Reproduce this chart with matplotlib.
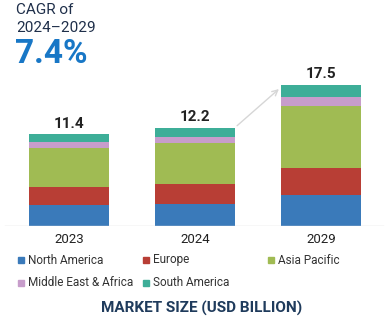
import matplotlib.pyplot as plt
from matplotlib.patches import Rectangle

plt.rcParams['font.family'] = ['Roboto', 'DejaVu Sans']

years = ['2023', '2024', '2029']
totals = [11.4, 12.2, 17.5]
regions = ['North America', 'Europe', 'Asia Pacific', 'Middle East & Africa', 'South America']
north_america = [2.6, 2.77, 3.8]
europe = [2.27, 2.44, 3.42]
asia_pacific = [4.76, 5.12, 7.68]
mea = [0.74, 0.74, 1.04]
south_america = [1.03, 1.13, 1.56]
colors = ['#3a7aba', '#b83e35', '#a0bb53', '#c79dcb', '#3dae98']

W, H = 391, 322
fig = plt.figure(figsize=(W / 100, H / 100), dpi=100)

# axes: baseline at y=226px, top at 70px; bar centres at 69, 195, 321px
ax = fig.add_axes([0, 1 - 226 / H, 1, (226 - 70) / H])
ax.set_ylim(0, (226 - 70) / 8.07)
ax.set_xlim(-69 / 126, (W - 69) / 126)
ax.axis('off')

x = range(len(years))
bottom = [0, 0, 0]
for vals, c in zip([north_america, europe, asia_pacific, mea, south_america], colors):
    ax.bar(x, vals, width=80 / 126, bottom=bottom, color=c, linewidth=0)
    bottom = [b + v for b, v in zip(bottom, vals)]

ax.axhline(0, xmin=5 / W, xmax=383 / W, color='#d9d9d9', lw=1)

for i, t in enumerate(totals):
    ax.annotate(f'{t}', (i, t), xytext=(0, 2.5), textcoords='offset points',
                ha='center', va='bottom', fontsize=11, fontweight='bold', color='#222222')
    ax.text(i, -0.9, years[i], ha='center', va='top', fontsize=9.5, color='#222222')

# growth arrow 2024 -> 2029
ax.annotate('', xy=(2 - 40 / 126, totals[2] - 0.3), xytext=(1 + 40 / 126, totals[1]),
            arrowprops=dict(arrowstyle='->', color='#d6d6d6', lw=1))

# legend
legend_pos = [(18, 260), (143, 260), (268, 260), (18, 283), (143, 283)]
for (px, py), name, c in zip(legend_pos, regions, colors):
    fig.patches.append(Rectangle((px / W, 1 - (py + 3) / H), 6 / W, 6 / H,
                                 transform=fig.transFigure, color=c, figure=fig))
    fig.text((px + 10) / W, 1 - py / H, name, ha='left', va='center',
             fontsize=8.5, color='#333333')

fig.text(202 / W, 1 - 308 / H, 'MARKET SIZE (USD BILLION)', ha='center', va='center',
         fontsize=11, fontweight='bold', color='#1f3b5c')

fig.text(16 / W, 1 - 10 / H, 'CAGR of', ha='left', va='center', fontsize=11, color='#1f2f4a')
fig.text(16 / W, 1 - 28 / H, '2024\u20132029', ha='left', va='center', fontsize=11, color='#1f2f4a')
fig.text(15 / W, 1 - 54 / H, '7.4%', ha='left', va='center', fontsize=24,
         fontweight='bold', color='#1877c6')

fig.savefig('out.png', dpi=100)
